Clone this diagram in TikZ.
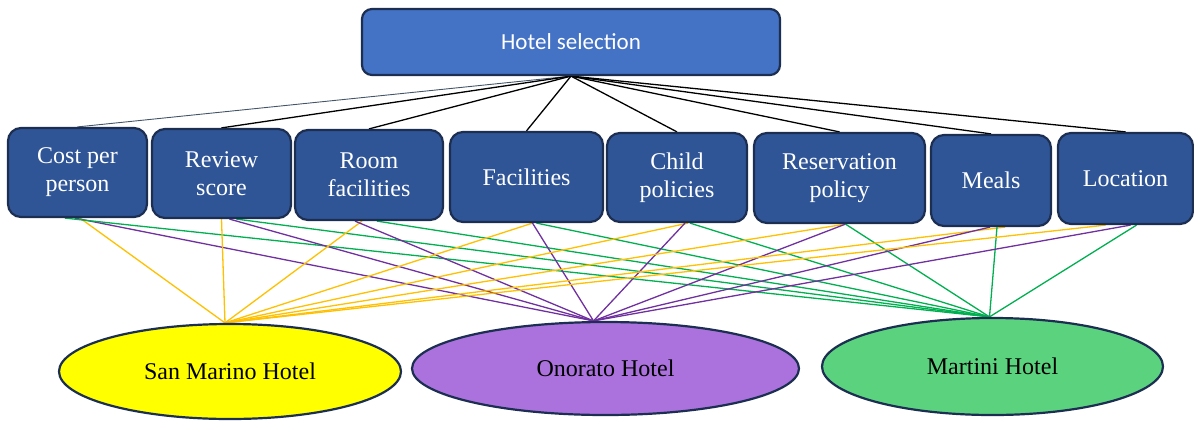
\documentclass[tikz,border=0pt]{standalone}
\usepackage{fontspec}
\setmainfont{Liberation Serif}
\newfontfamily\calibri{Carlito}
\usetikzlibrary{shapes.geometric,backgrounds}

\definecolor{topblue}{HTML}{4472C4}
\definecolor{critblue}{HTML}{2F5597}
\definecolor{navyline}{HTML}{1C2F52}
\definecolor{slate}{HTML}{44546A}
\definecolor{ylwline}{HTML}{FFC000}
\definecolor{prpline}{HTML}{7030A0}
\definecolor{grnline}{HTML}{00B050}
\definecolor{prpfill}{HTML}{AB72DE}
\definecolor{grnfill}{HTML}{5BD37E}
\definecolor{ylwfill}{HTML}{FFFF00}

\begin{document}
\begin{tikzpicture}[x=1pt,y=-1pt,
  goalbox/.style={draw=navyline,line width=2.2pt,fill=topblue,rounded corners=10pt,
    text=white,font=\calibri\fontsize{23}{27}\selectfont},
  critbox/.style={draw=navyline,line width=2.2pt,fill=critblue,rounded corners=13pt,
    text=white,align=center,inner sep=0pt,font=\fontsize{24}{28}\selectfont},
  hotel/.style={ellipse,draw=navyline,line width=2.2pt,inner sep=0pt,
    font=\fontsize{24}{28}\selectfont},
  toplink/.style={line width=1.3pt},
  toSM/.style={draw=ylwline,line width=1.3pt},
  toON/.style={draw=prpline,line width=1.3pt},
  toMT/.style={draw=grnline,line width=1.3pt}]
\useasboundingbox (0,0) rectangle (1194,421);

% Goal.
\node[goalbox,minimum width=418,minimum height=66] (goal) at (571,42) {Hotel selection};

% Criteria row (pixel positions from the source figure).
\node[critbox,minimum width=139,minimum height=89] (c1) at (77.5,172.5) {Cost per\\person};
\node[critbox,minimum width=139,minimum height=89] (c2) at (221.5,173.5) {Review\\score};
\node[critbox,minimum width=148,minimum height=90] (c3) at (369,175) {Room\\facilities};
\node[critbox,minimum width=153,minimum height=90] (c4) at (526.5,177) {Facilities};
\node[critbox,minimum width=140,minimum height=89] (c5) at (677,177.5) {Child\\policies};
\node[critbox,minimum width=171,minimum height=90] (c6) at (839.5,178) {Reservation\\policy};
\node[critbox,minimum width=120,minimum height=91] (c7) at (991,180.5) {Meals};
\node[critbox,minimum width=135,minimum height=91] (c8) at (1125.5,178.5) {Location};

% Alternatives.
\node[hotel,fill=ylwfill,minimum width=342,minimum height=95] (sm) at (230,371.5) {San Marino Hotel};
\node[hotel,fill=prpfill,minimum width=387,minimum height=93] (on) at (605.5,368.5) {Onorato Hotel};
\node[hotel,fill=grnfill,minimum width=341,minimum height=97] (mt) at (992.5,366.5) {Martini Hotel};

\begin{scope}[on background layer]
% Goal to criteria.
\draw[toplink,draw=slate,line width=0.9pt] (goal.south) -- (c1.north);
\foreach \n in {c2,c3,c4,c5,c6,c7,c8}
  \draw[toplink] (goal.south) -- (\n.north);

% Criteria to alternatives; start offsets along each box bottom.
\foreach \n/\ys/\ps/\gs in {c1/2.5/-2.5/-12.5, c2/0/8/15, c3/-7/-14/8, c4/6/6/10,
    c5/11/8/13, c6/6/6/6, c7/14/-1/6, c8/-20/5/11} {
  \draw[toSM] ([xshift=\ys]\n.south) -- ([xshift=-5]sm.north);
  \draw[toON] ([xshift=\ps]\n.south) -- ([xshift=-12]on.north);
  \draw[toMT] ([xshift=\gs]\n.south) -- ([xshift=-3]mt.north);
}
\end{scope}
\end{tikzpicture}
\end{document}
